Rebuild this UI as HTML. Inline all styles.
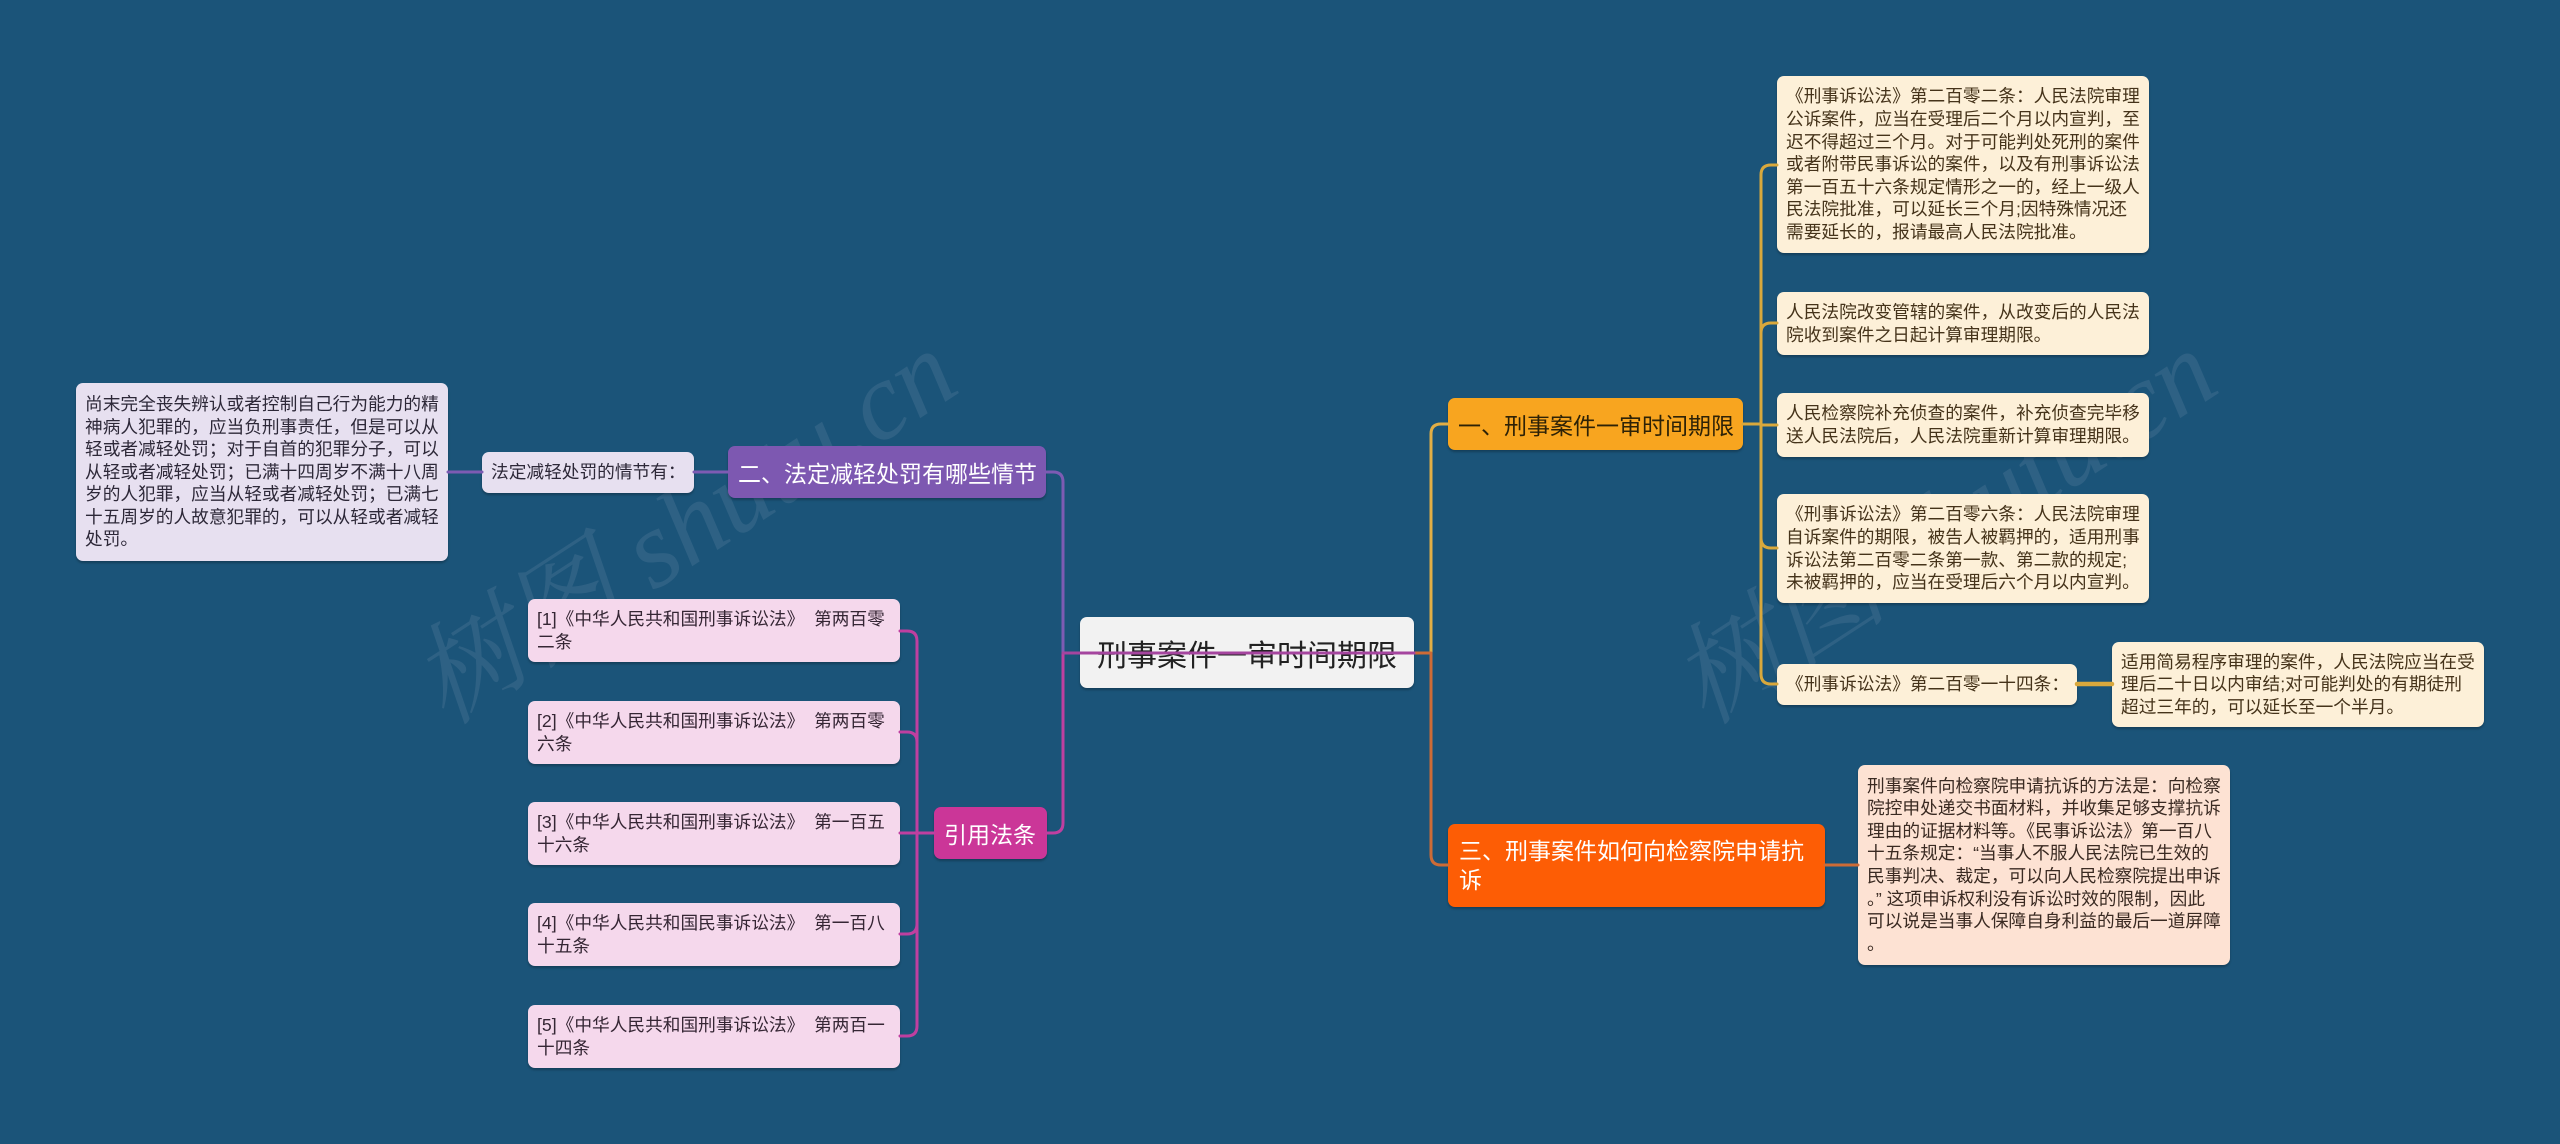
<!DOCTYPE html>
<html>
<head>
<meta charset="utf-8">
<style>
html,body{margin:0;padding:0;}
body{width:2560px;height:1144px;background:#1b5479;position:relative;overflow:hidden;font-family:"Liberation Sans","Noto Sans CJK SC","WenQuanYi Zen Hei",sans-serif;}
.n{position:absolute;box-sizing:border-box;border-radius:7px;white-space:nowrap;display:flex;align-items:center;box-shadow:0 2px 2px rgba(0,0,0,0.25);}
.leaf{background:#fdf0d8;color:#45331a;font-size:17.7px;line-height:22.6px;padding:0 9px;}
.b3c{background:#fde2d3;color:#3a2a22;font-size:17.7px;line-height:22.6px;padding:0 9px;}
.lav{background:#e7e0f0;color:#2d2838;font-size:17.7px;line-height:22.6px;padding:0 9px;}
.ref{background:#f5d8ec;color:#352634;font-size:17.7px;line-height:22.6px;padding:0 9px;}
.wm{position:absolute;font-family:"Liberation Serif","Noto Serif CJK SC",serif;font-style:italic;font-size:110px;color:rgba(190,200,210,0.12);white-space:nowrap;transform-origin:center center;}
svg{position:absolute;left:0;top:0;}
</style>
</head>
<body>

<div class="wm" style="left:370px;top:440px;transform:rotate(-33deg);">树图 shutu.cn</div>
<div class="wm" style="left:1630px;top:440px;transform:rotate(-33deg);">树图 shutu.cn</div>

<!-- center -->
<div class="n" style="left:1080px;top:617px;width:334px;height:71px;background:#f2f2f2;color:#222;font-size:30px;padding:0 17px;">刑事案件一审时间期限</div>

<!-- right branch 1 -->
<div class="n" style="left:1448px;top:398px;width:295px;height:52px;background:#f8a51f;color:#2e2206;font-size:23px;padding:0 10px;">一、刑事案件一审时间期限</div>

<div class="n leaf" style="left:1777px;top:76px;width:372px;height:177px;"><div>《刑事诉讼法》第二百零二条：人民法院审理<br>公诉案件，应当在受理后二个月以内宣判，至<br>迟不得超过三个月。对于可能判处死刑的案件<br>或者附带民事诉讼的案件，以及有刑事诉讼法<br>第一百五十六条规定情形之一的，经上一级人<br>民法院批准，可以延长三个月;因特殊情况还<br>需要延长的，报请最高人民法院批准。</div></div>
<div class="n leaf" style="left:1777px;top:292px;width:372px;height:63px;"><div>人民法院改变管辖的案件，从改变后的人民法<br>院收到案件之日起计算审理期限。</div></div>
<div class="n leaf" style="left:1777px;top:393px;width:372px;height:64px;"><div>人民检察院补充侦查的案件，补充侦查完毕移<br>送人民法院后，人民法院重新计算审理期限。</div></div>
<div class="n leaf" style="left:1777px;top:494px;width:372px;height:109px;"><div>《刑事诉讼法》第二百零六条：人民法院审理<br>自诉案件的期限，被告人被羁押的，适用刑事<br>诉讼法第二百零二条第一款、第二款的规定;<br>未被羁押的，应当在受理后六个月以内宣判。</div></div>
<div class="n leaf" style="left:1777px;top:664px;width:300px;height:41px;"><div>《刑事诉讼法》第二百零一十四条：</div></div>
<div class="n leaf" style="left:2112px;top:642px;width:372px;height:85px;"><div>适用简易程序审理的案件，人民法院应当在受<br>理后二十日以内审结;对可能判处的有期徒刑<br>超过三年的，可以延长至一个半月。</div></div>

<!-- right branch 3 -->
<div class="n" style="left:1448px;top:824px;width:377px;height:83px;background:#fd5d05;color:#fff;font-size:23px;line-height:29px;padding:0 11px;"><div>三、刑事案件如何向检察院申请抗<br>诉</div></div>
<div class="n b3c" style="left:1858px;top:765px;width:372px;height:200px;"><div>刑事案件向检察院申请抗诉的方法是：向检察<br>院控申处递交书面材料，并收集足够支撑抗诉<br>理由的证据材料等。《民事诉讼法》第一百八<br>十五条规定：“当事人不服人民法院已生效的<br>民事判决、裁定，可以向人民检察院提出申诉<br>。” 这项申诉权利没有诉讼时效的限制，因此<br>可以说是当事人保障自身利益的最后一道屏障<br>。</div></div>

<!-- left branch 2 -->
<div class="n" style="left:728px;top:446px;width:318px;height:52px;background:#7d58b1;color:#fff;font-size:23px;padding:0 10px;">二、法定减轻处罚有哪些情节</div>
<div class="n lav" style="left:482px;top:452px;width:212px;height:41px;"><div>法定减轻处罚的情节有：</div></div>
<div class="n lav" style="left:76px;top:383px;width:372px;height:178px;"><div>尚末完全丧失辨认或者控制自己行为能力的精<br>神病人犯罪的，应当负刑事责任，但是可以从<br>轻或者减轻处罚；对于自首的犯罪分子，可以<br>从轻或者减轻处罚；已满十四周岁不满十八周<br>岁的人犯罪，应当从轻或者减轻处罚；已满七<br>十五周岁的人故意犯罪的，可以从轻或者减轻<br>处罚。</div></div>

<!-- left branch refs -->
<div class="n" style="left:934px;top:807px;width:113px;height:52px;background:#cb3698;color:#fff;font-size:23px;padding:0 10px;">引用法条</div>
<div class="n ref" style="left:528px;top:599px;width:372px;height:63px;"><div>[1]《中华人民共和国刑事诉讼法》&nbsp; 第两百零<br>二条</div></div>
<div class="n ref" style="left:528px;top:701px;width:372px;height:63px;"><div>[2]《中华人民共和国刑事诉讼法》&nbsp; 第两百零<br>六条</div></div>
<div class="n ref" style="left:528px;top:802px;width:372px;height:63px;"><div>[3]《中华人民共和国刑事诉讼法》&nbsp; 第一百五<br>十六条</div></div>
<div class="n ref" style="left:528px;top:903px;width:372px;height:63px;"><div>[4]《中华人民共和国民事诉讼法》&nbsp; 第一百八<br>十五条</div></div>
<div class="n ref" style="left:528px;top:1005px;width:372px;height:63px;"><div>[5]《中华人民共和国刑事诉讼法》&nbsp; 第两百一<br>十四条</div></div>

<svg width="2560" height="1144" viewBox="0 0 2560 1144" fill="none" stroke-width="3" stroke-linecap="round" stroke-linejoin="round">
  <!-- center to right branches -->
  <path d="M1414,653 H1431 V434 Q1431,424 1441,424 H1448" stroke="#e2ae45"/>
  <path d="M1414,653 H1431 V855 Q1431,865 1441,865 H1448" stroke="#cd6b36"/>
  <!-- branch1 to leaves -->
  <path d="M1743,424 H1761" stroke="#d9a83c"/>
  <path d="M1761,425 V175 Q1761,165 1771,165 H1777" stroke="#d9a83c"/>
  <path d="M1761,333 Q1761,323 1771,323 H1777" stroke="#d9a83c"/>
  <path d="M1761,425 H1777" stroke="#d9a83c"/>
  <path d="M1761,425 V674 Q1761,684 1771,684 H1777" stroke="#d9a83c"/>
  <path d="M1761,538 Q1761,548 1771,548 H1777" stroke="#d9a83c"/>
  <path d="M2077,684 H2112" stroke="#d9a83c" stroke-width="4.5"/>
  <!-- branch3 to child -->
  <path d="M1825,865 H1858" stroke="#cd6b36"/>
  <!-- left trunk -->
  <path d="M1063,653 V482 Q1063,472 1053,472 H1046" stroke="#7d5bb3"/>
  <path d="M1063,653 V823 Q1063,833 1053,833 H1047" stroke="#bf3fa0"/>
  <path d="M1063,653 H1414" stroke="#a5459f"/>
  <!-- branch2 chain -->
  <path d="M728,472 H694" stroke="#7d5bb3"/>
  <path d="M482,472 H448" stroke="#7d5bb3"/>
  <!-- refs -->
  <path d="M934,833 H917" stroke="#bf3fa0"/>
  <path d="M917,833 V641 Q917,631 907,631 H900" stroke="#bf3fa0"/>
  <path d="M917,742 Q917,732 907,732 H900" stroke="#bf3fa0"/>
  <path d="M917,833 H900" stroke="#bf3fa0"/>
  <path d="M917,833 V1026 Q917,1036 907,1036 H900" stroke="#bf3fa0"/>
  <path d="M917,924 Q917,934 907,934 H900" stroke="#bf3fa0"/>
</svg>

</body>
</html>
